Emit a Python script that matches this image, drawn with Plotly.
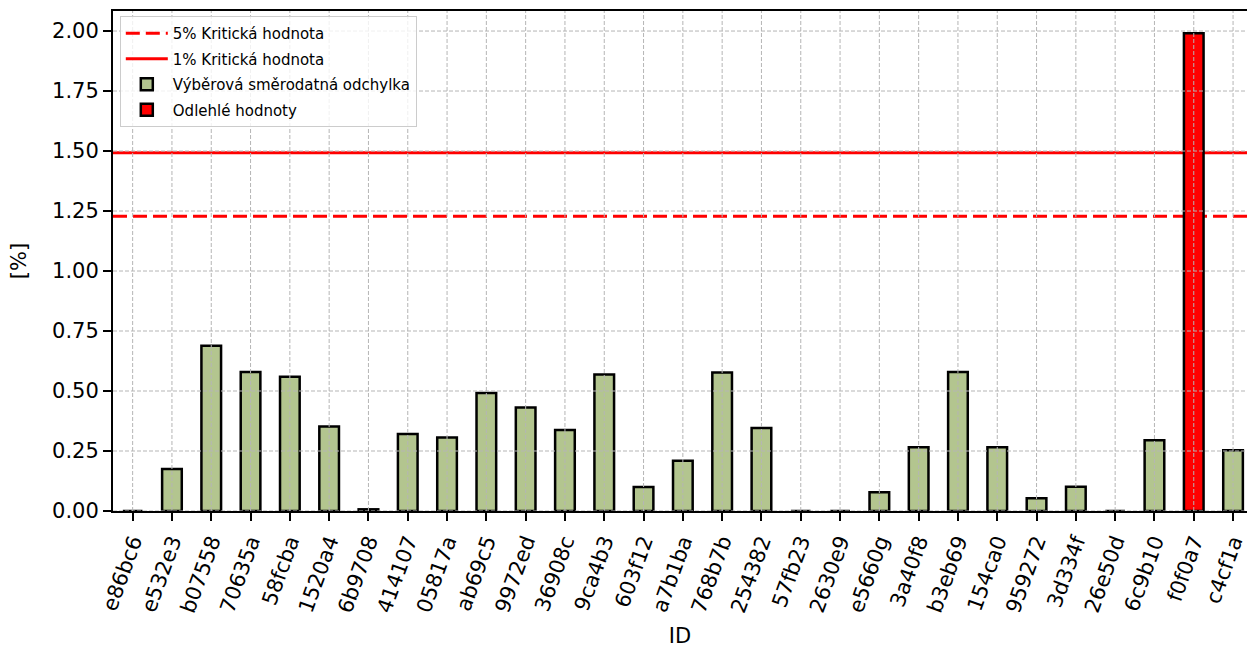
import plotly.graph_objects as go

ids = ["e86bc6", "e532e3", "b07558", "70635a", "58fcba", "1520a4", "6b9708",
       "414107", "05817a", "ab69c5", "9972ed", "36908c", "9ca4b3", "603f12",
       "a7b1ba", "768b7b", "254382", "57fb23", "2630e9", "e5660g", "3a40f8",
       "b3eb69", "154ca0", "959272", "3d334f", "26e50d", "6c9b10", "f0f0a7",
       "c4cf1a"]
std_values = [0.0, 0.175, 0.689, 0.579, 0.559, 0.352, 0.007,
              0.321, 0.306, 0.492, 0.431, 0.338, 0.569, 0.100,
              0.209, 0.577, 0.346, 0.0, 0.0, 0.078, 0.266,
              0.579, 0.266, 0.053, 0.101, 0.0, 0.295, 1.991,
              0.253]
crit_5 = 1.228
crit_1 = 1.493
y_ticks = [0.0, 0.25, 0.5, 0.75, 1.0, 1.25, 1.5, 1.75, 2.0]

green = "#b3c58f"
font = "DejaVu Sans"

idx = list(range(len(ids)))
normal_x = [i for i, v in zip(idx, std_values) if v <= crit_1]
normal_y = [v for v in std_values if v <= crit_1]
out_x = [i for i, v in zip(idx, std_values) if v > crit_1]
out_y = [v for v in std_values if v > crit_1]

x_range = [-0.5, 28.355]
y_range = [0, 2.0835]

fig = go.Figure()
fig.add_trace(go.Bar(
    x=normal_x, y=normal_y, width=0.5, name="Výběrová směrodatná odchylka",
    marker=dict(color=green, line=dict(color="black", width=2.5)),
    legendrank=3, legendgroup="g3"))
fig.add_trace(go.Bar(
    x=out_x, y=out_y, width=0.5, name="Odlehlé hodnoty",
    marker=dict(color="#ff0000", line=dict(color="black", width=2.5)),
    legendrank=4, legendgroup="g4"))

shapes = []
shapes.append(dict(type="line", xref="x", yref="y", x0=x_range[0], x1=29,
                   y0=crit_5, y1=crit_5, layer="below",
                   line=dict(color="#ff0000", width=3, dash="14px,6px"),
                   showlegend=True, name="5% Kritická hodnota",
                   legendrank=1, legendgroup="g1"))
shapes.append(dict(type="line", xref="x", yref="y", x0=x_range[0], x1=29,
                   y0=crit_1, y1=crit_1, layer="below",
                   line=dict(color="#ff0000", width=3),
                   showlegend=True, name="1% Kritická hodnota",
                   legendrank=2, legendgroup="g2"))
for i in idx:
    shapes.append(dict(type="line", xref="x", yref="paper", x0=i, x1=i, y0=0, y1=1,
                       layer="above", line=dict(color="#b5b5b5", width=1, dash="4px,2px")))
for t in y_ticks:
    shapes.append(dict(type="line", xref="paper", yref="y", x0=0, x1=1, y0=t, y1=t,
                       layer="above", line=dict(color="#b5b5b5", width=1, dash="4px,2px")))

fig.update_layout(
    width=1247, height=648,
    margin=dict(l=113, r=0, t=11, b=137),
    paper_bgcolor="white", plot_bgcolor="white",
    barmode="overlay",
    font=dict(family=font, color="black", size=21),
    shapes=shapes,
    showlegend=True,
    legend=dict(x=0.006, y=0.99, xanchor="left", yanchor="top",
                bgcolor="rgba(255,255,255,0.8)", bordercolor="#cccccc", borderwidth=1,
                font=dict(size=15, family=font), traceorder="grouped",
                tracegroupgap=3, itemwidth=42),
)
fig.update_xaxes(
    range=x_range, tickmode="array", tickvals=idx, ticktext=ids,
    tickangle=-70, showgrid=False, zeroline=False, ticklabeloverflow="allow",
    automargin=False,
    showline=True, linecolor="black", linewidth=2, mirror=True,
    ticks="outside", ticklen=8, tickwidth=2, tickcolor="black",
    tickfont=dict(size=21), title=dict(text="ID", standoff=24, font=dict(size=21)))
fig.update_yaxes(
    range=y_range, tickmode="array", tickvals=y_ticks,
    ticktext=[f"{t:.2f}" for t in y_ticks],
    showgrid=False, zeroline=False, automargin=False,
    showline=True, linecolor="black", linewidth=2, mirror=False,
    ticks="outside", ticklen=8, tickwidth=2, tickcolor="black",
    tickfont=dict(size=21), title=dict(text="[%]", standoff=20, font=dict(size=21)))

fig.write_html("out.html", config={"displayModeBar": False},
               post_script="document.body.style.margin='0';")
